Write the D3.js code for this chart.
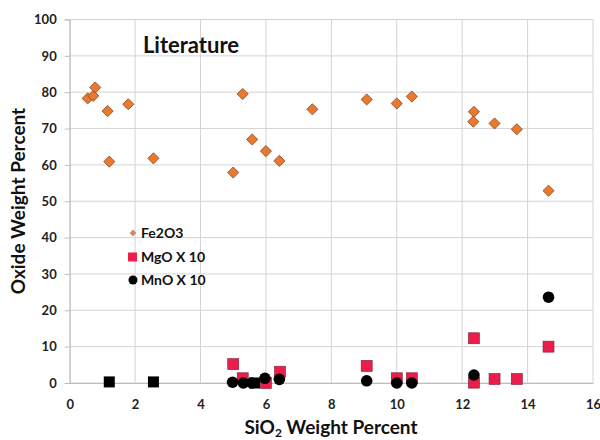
<!DOCTYPE html>
<html><head><meta charset="utf-8">
<script src="https://cdn.jsdelivr.net/npm/d3@7"></script>
<style>body{margin:0;background:#fff;} svg{display:block;font-family:Lato,"Open Sans",sans-serif;}</style>
</head><body>
<svg id="c" width="600" height="440"></svg>
<script>
const xTicks = [0,2,4,6,8,10,12,14,16];
const yTicks = [0,10,20,30,40,50,60,70,80,90,100];
const fe2o3X = [0.55,0.72,0.78,1.16,1.79,1.21,2.56,5.29,5.0,5.58,6.0,6.41,7.42,9.08,10.0,10.46,12.36,12.34,12.99,13.67,14.64];
const fe2o3Y = [78.3,79.0,81.3,74.8,76.7,60.9,61.8,79.5,57.9,67.0,63.8,61.1,75.3,78.0,76.9,78.8,74.6,71.9,71.4,69.8,52.9];
const mgoX = [5.0,5.29,6.0,6.43,9.08,10.0,10.46,12.36,12.36,12.99,13.67,14.64];
const mgoY = [5.2,1.3,0.0,3.1,4.7,1.3,1.3,12.3,0.1,1.1,1.1,10.0];
const mnoX = [4.98,5.31,5.57,5.97,6.41,9.08,10.0,10.46,12.36,14.64];
const mnoY = [0.2,0.0,0.0,1.3,1.0,0.6,0.0,0.0,2.2,23.6];
const otherX = [1.21,2.56,5.65];
const otherY = [0.3,0.3,0.0];
const legendLabels = ["Fe2O3","MgO X 10","MnO X 10"];

const svg = d3.select("#c");
const x = d3.scaleLinear().domain([0,16]).range([69.7,593]);
const y = d3.scaleLinear().domain([0,100]).range([383,19.5]);

// grid
svg.append("g").selectAll("line").data(xTicks).join("line")
  .attr("x1",d=>x(d)).attr("x2",d=>x(d)).attr("y1",y(0)).attr("y2",y(100))
  .attr("stroke","#d4d4d4").attr("stroke-width",1);
svg.append("g").selectAll("line").data(yTicks).join("line")
  .attr("x1",x(0)).attr("x2",x(16)).attr("y1",d=>y(d)).attr("y2",d=>y(d))
  .attr("stroke","#d4d4d4").attr("stroke-width",1);

// axes
const xa = svg.append("g").attr("transform",`translate(0,${y(0)})`)
  .call(d3.axisBottom(x).tickValues(xTicks).tickSize(0).tickPadding(17));
const ya = svg.append("g").attr("transform",`translate(${x(0)},0)`)
  .call(d3.axisLeft(y).tickValues(yTicks).tickSize(5).tickPadding(8));
[xa,ya].forEach(a=>{
  a.select(".domain").attr("stroke","#bdbdbd");
  a.selectAll(".tick line").attr("stroke","#bdbdbd");
  a.selectAll("text").attr("font-family","Lato, sans-serif").attr("font-weight","bold")
   .attr("font-size","13px").attr("fill","#222");
});

// marks
const sq = 11;
svg.append("g").selectAll("path").data(fe2o3X.map((v,i)=>[v,fe2o3Y[i]])).join("path")
  .attr("d", d3.symbol().type(d3.symbolSquare).size(62))
  .attr("transform",d=>`translate(${x(d[0])},${y(d[1])}) rotate(45)`)
  .attr("fill","#e8792e").attr("stroke","#8a4a2a").attr("stroke-width",0.8);
svg.append("g").selectAll("rect").data(otherX.map((v,i)=>[v,otherY[i]])).join("rect")
  .attr("x",d=>x(d[0])-5.5).attr("y",d=>y(d[1])-5.5).attr("width",11).attr("height",11)
  .attr("fill","#000");
svg.append("g").selectAll("rect").data(mgoX.map((v,i)=>[v,mgoY[i]])).join("rect")
  .attr("x",d=>x(d[0])-sq/2).attr("y",d=>y(d[1])-sq/2).attr("width",sq).attr("height",sq)
  .attr("fill","#ec1c4b").attr("stroke","#7a2030").attr("stroke-width",0.6);
svg.append("g").selectAll("circle").data(mnoX.map((v,i)=>[v,mnoY[i]])).join("circle")
  .attr("cx",d=>x(d[0])).attr("cy",d=>y(d[1])).attr("r",5.8).attr("fill","#000");

// legend
const lg = svg.append("g");
const ly = [233,257,280];
lg.append("path").attr("d",d3.symbol().type(d3.symbolSquare).size(20)())
  .attr("transform",`translate(133,${ly[0]}) rotate(45)`).attr("fill","#d88a55").attr("stroke","#999").attr("stroke-width",0.5);
lg.append("rect").attr("x",128).attr("y",ly[1]-4.5).attr("width",9).attr("height",9).attr("fill","#ec1c4b");
lg.append("circle").attr("cx",133).attr("cy",ly[2]).attr("r",4.5).attr("fill","#000");
lg.selectAll("text").data(legendLabels).join("text")
  .attr("x",141).attr("y",(d,i)=>ly[i]).attr("dy","0.35em")
  .attr("font-weight","bold").attr("font-size","14px").attr("fill","#111").text(d=>d);

// title
svg.append("text").attr("x",191).attr("y",53).attr("text-anchor","middle")
  .attr("font-weight","bold").attr("font-size","22px").attr("fill","#111").text("Literature");

// axis titles
const xt = svg.append("text").attr("x",331).attr("y",434).attr("text-anchor","middle")
  .attr("font-weight","bold").attr("font-size","19px").attr("fill","#111");
xt.append("tspan").text("SiO");
xt.append("tspan").attr("font-size","12px").attr("dy","3").text("2");
xt.append("tspan").attr("dy","-3").text(" Weight Percent");
svg.append("text").attr("transform","translate(25,201) rotate(-90)").attr("text-anchor","middle")
  .attr("font-weight","bold").attr("font-size","19px").attr("fill","#111").text("Oxide Weight Percent");
</script>
</body></html>
